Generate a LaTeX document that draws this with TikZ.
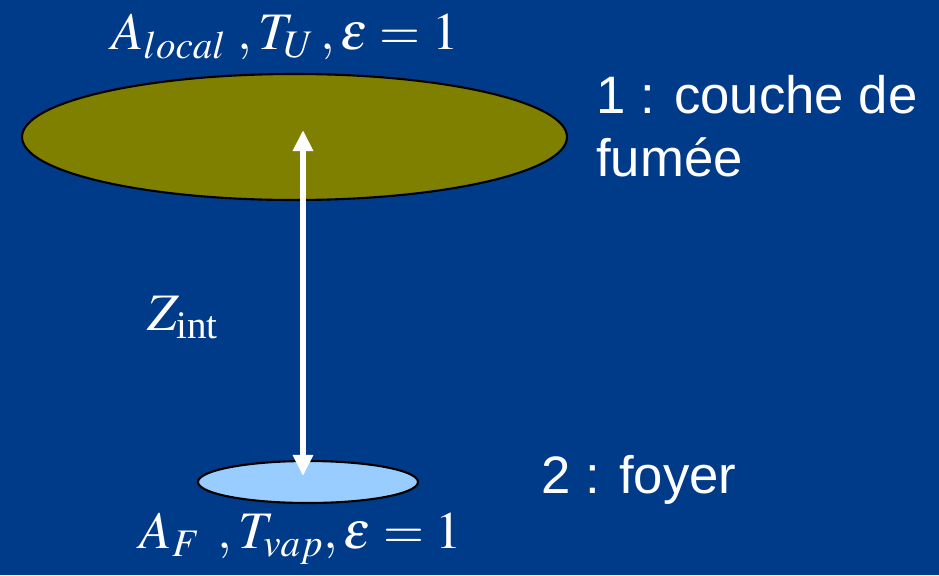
\documentclass[tikz,border=0pt]{standalone}
\usepackage{amsmath}
\usepackage{mathptmx}
\usepackage{fontspec}
\setmainfont{Liberation Serif}
\setsansfont{Liberation Sans}
\usepackage{tikz}
\usetikzlibrary{arrows.meta,shapes,positioning,calc}

\definecolor{fond}{RGB}{0,59,138}
\definecolor{fumee}{RGB}{128,128,0}
\definecolor{foyer}{RGB}{153,204,255}

\begin{document}
\begin{tikzpicture}[x=0.02cm,y=-0.02cm,
    couche/.style={draw=black,line width=1.2pt},
    hauteur/.style={white,line width=3pt,{Triangle[length=12pt,width=11pt]}-{Triangle[length=12pt,width=11pt]}},
    formule/.style={white,font=\fontsize{30}{34}\selectfont,inner sep=1pt},
    legende/.style={white,font=\sffamily\fontsize{30}{36}\selectfont,align=left,anchor=west}]
  \fill[fond] (0,0) rectangle (939,575);
  \useasboundingbox (0,0) rectangle (939,575);
  % les deux surfaces
  \filldraw[couche,fill=fumee] (294.5,137) ellipse (272.5 and 63);
  \filldraw[couche,fill=foyer] (308,482) ellipse (110 and 21);
  \coordinate (haut) at (303,130);
  \coordinate (bas) at (303,476);
  \draw[hauteur] (bas) -- (haut);
  % textes
  \node[formule] (f1) at (285,37) {$A_{local}\;,T_U\,,\varepsilon=1$};
  \node[formule] (f2) at (301,539) {$A_F\;\,,T_{vap},\varepsilon=1$};
  \node[formule] (zint) at (183,318) {$Z_{\text{int}}$};
  \node[legende] (c1) at (590,126) {1 : couche de\\fumée};
  \node[legende] (c2) at (535,480) {2 : foyer};
\end{tikzpicture}
\end{document}
